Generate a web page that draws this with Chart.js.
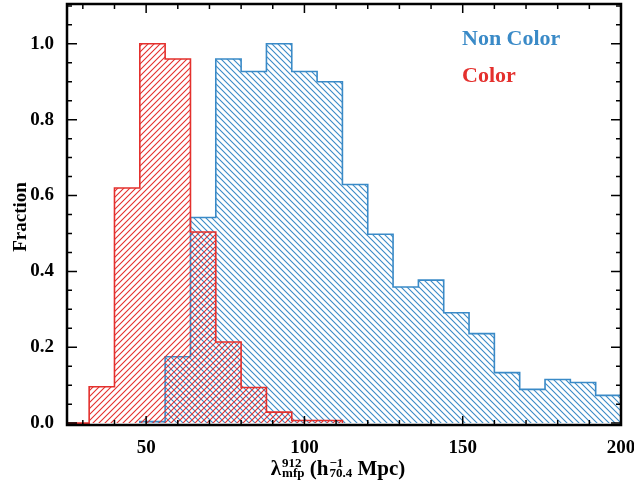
<!DOCTYPE html>
<html>
<head>
<meta charset="utf-8">
<script src="https://cdn.jsdelivr.net/npm/chart.js@4"></script>
<style>
  body { margin: 0; background: #fff; }
  canvas { display: block; }
</style>
</head>
<body>
<canvas id="histChart" width="634" height="482"></canvas>
<script>
// bin edges (lambda_mfp, h^-1 Mpc), 8 wide
var binEdges = [24, 32, 40, 48, 56, 64, 72, 80, 88, 96, 104, 112, 120, 128, 136, 144, 152, 160, 168, 176, 184, 192, 200];
// null = no line drawn for that bin
var colorFrac = [0, 0.096, 0.62, 1.0, 0.96, 0.504, 0.214, 0.094, 0.029, 0.007, 0.007, null, null, null, null, null, null, null, null, null, null, null];
var nonColorFrac = [null, null, null, 0.004, 0.175, 0.542, 0.96, 0.927, 1.0, 0.927, 0.9, 0.629, 0.498, 0.359, 0.377, 0.291, 0.236, 0.133, 0.089, 0.115, 0.107, 0.073];

var xMajorTicks = [50, 100, 150, 200];
var xMinorTicks = [30, 40, 60, 70, 80, 90, 110, 120, 130, 140, 160, 170, 180, 190];
var yMajorTicks = [0, 0.2, 0.4, 0.6, 0.8, 1.0];
var yMinorTicks = [0.05, 0.1, 0.15, 0.25, 0.3, 0.35, 0.45, 0.5, 0.55, 0.65, 0.7, 0.75, 0.85, 0.9, 0.95, 1.05, 1.1];

var blue = '#3a8ac7';
var red = '#e4302d';
var serif = '"Liberation Serif", "DejaVu Serif", serif';

// turn bin values into step points
function steps(vals) {
  var pts = [];
  var last = -1;
  for (var i = 0; i < vals.length; i++) {
    if (vals[i] === null) continue;
    if (pts.length === 0) pts.push({x: binEdges[i], y: 0});
    pts.push({x: binEdges[i], y: vals[i]});
    last = i;
  }
  pts.push({x: binEdges[last + 1], y: vals[last]});
  pts.push({x: binEdges[last + 1], y: 0});
  return pts;
}

// diagonal hatch fill
function hatch(color, slash) {
  var c = document.createElement('canvas');
  c.width = 6; c.height = 6;
  var g = c.getContext('2d');
  g.strokeStyle = color;
  g.lineWidth = 1.1;
  g.beginPath();
  if (slash) {
    g.moveTo(0, 6); g.lineTo(6, 0);
    g.moveTo(-1, 1); g.lineTo(1, -1);
    g.moveTo(5, 7); g.lineTo(7, 5);
  } else {
    g.moveTo(0, 0); g.lineTo(6, 6);
    g.moveTo(5, -1); g.lineTo(7, 1);
    g.moveTo(-1, 5); g.lineTo(1, 7);
  }
  g.stroke();
  return g.createPattern(c, 'repeat');
}

// frame + inward ticks on all four sides, legend text, axis titles
var framePlugin = {
  id: 'frame',
  afterDatasetsDraw: function(chart) {
    var ctx = chart.ctx;
    var a = chart.chartArea;
    var xs = chart.scales.x, ys = chart.scales.y;
    ctx.save();
    ctx.strokeStyle = '#000';
    ctx.lineWidth = 1.5;
    ctx.beginPath();
    function xt(v, len) {
      var px = xs.getPixelForValue(v);
      ctx.moveTo(px, a.bottom); ctx.lineTo(px, a.bottom - len);
      ctx.moveTo(px, a.top); ctx.lineTo(px, a.top + len);
    }
    function yt(v, len) {
      var py = ys.getPixelForValue(v);
      ctx.moveTo(a.left, py); ctx.lineTo(a.left + len, py);
      ctx.moveTo(a.right, py); ctx.lineTo(a.right - len, py);
    }
    xMajorTicks.forEach(function(v) { xt(v, 9); });
    xMinorTicks.forEach(function(v) { xt(v, 5); });
    yMajorTicks.forEach(function(v) { yt(v, 10); });
    yMinorTicks.forEach(function(v) { yt(v, 5); });
    ctx.stroke();
    ctx.lineWidth = 2.5;
    ctx.strokeRect(a.left, a.top, a.right - a.left, a.bottom - a.top);

    // legend
    ctx.font = 'bold 22px ' + serif;
    ctx.textBaseline = 'alphabetic';
    ctx.textAlign = 'left';
    ctx.fillStyle = blue;
    ctx.fillText('Non Color', 462, 45);
    ctx.fillStyle = red;
    ctx.fillText('Color', 462, 82);

    // y title
    ctx.fillStyle = '#000';
    ctx.font = 'bold 19px ' + serif;
    ctx.save();
    ctx.translate(26, 217);
    ctx.rotate(-Math.PI / 2);
    ctx.textAlign = 'center';
    ctx.fillText('Fraction', 0, 0);
    ctx.restore();

    // x title with stacked super/subscripts
    var big = 'bold 21px ' + serif, small = 'bold 13px ' + serif;
    var parts = [
      {t: 'λ'},
      {sup: '912', sub: 'mfp'},
      {t: ' (h'},
      {sup: '\u22121', sub: '70.4'},
      {t: ' Mpc)'}
    ];
    var total = 0;
    parts.forEach(function(p) {
      if (p.t) { ctx.font = big; p.w = ctx.measureText(p.t).width; }
      else { ctx.font = small; p.w = Math.max(ctx.measureText(p.sup).width, ctx.measureText(p.sub).width) + 1; }
      total += p.w;
    });
    var x = 338 - total / 2;
    parts.forEach(function(p) {
      if (p.t) { ctx.font = big; ctx.fillText(p.t, x, 475); }
      else {
        ctx.font = small;
        ctx.fillText(p.sup, x + 1, 467);
        ctx.fillText(p.sub, x + 1, 477);
      }
      x += p.w;
    });
    ctx.restore();
  }
};

var histChart = new Chart(document.getElementById('histChart'), {
  type: 'line',
  data: {
    datasets: [{
      label: 'Color',
      data: steps(colorFrac),
      stepped: 'before',
      borderColor: red,
      borderWidth: 1.6,
      backgroundColor: hatch(red, true),
      fill: 'origin',
      pointRadius: 0,
      order: 0
    }, {
      label: 'Non Color',
      data: steps(nonColorFrac),
      stepped: 'before',
      borderColor: blue,
      borderWidth: 1.6,
      backgroundColor: hatch(blue, false),
      fill: 'origin',
      pointRadius: 0,
      order: 1
    }]
  },
  options: {
    responsive: false,
    animation: false,
    layout: { padding: { top: 4, right: 13, left: 0, bottom: 0 } },
    plugins: { legend: { display: false }, tooltip: { enabled: false } },
    scales: {
      x: {
        type: 'linear',
        min: 25,
        max: 200,
        grid: { display: false },
        border: { display: false },
        ticks: {
          color: '#000',
          font: { family: serif, size: 19, weight: 'bold' },
          padding: 4,
          maxRotation: 0,
          autoSkip: false
        },
        afterBuildTicks: function(s) { s.ticks = xMajorTicks.map(function(v) { return {value: v}; }); },
        afterFit: function(s) { s.height = 57; s.paddingLeft = 0; s.paddingRight = 0; }
      },
      y: {
        min: -0.005,
        max: 1.105,
        grid: { display: false },
        border: { display: false },
        ticks: {
          color: '#000',
          font: { family: serif, size: 19, weight: 'bold' },
          padding: 5,
          callback: function(v) { return v.toFixed(1); }
        },
        afterBuildTicks: function(s) { s.ticks = yMajorTicks.map(function(v) { return {value: v}; }); },
        afterFit: function(s) { s.width = 67; s.paddingTop = 0; s.paddingBottom = 0; }
      }
    }
  },
  plugins: [framePlugin]
});
</script>
</body>
</html>
